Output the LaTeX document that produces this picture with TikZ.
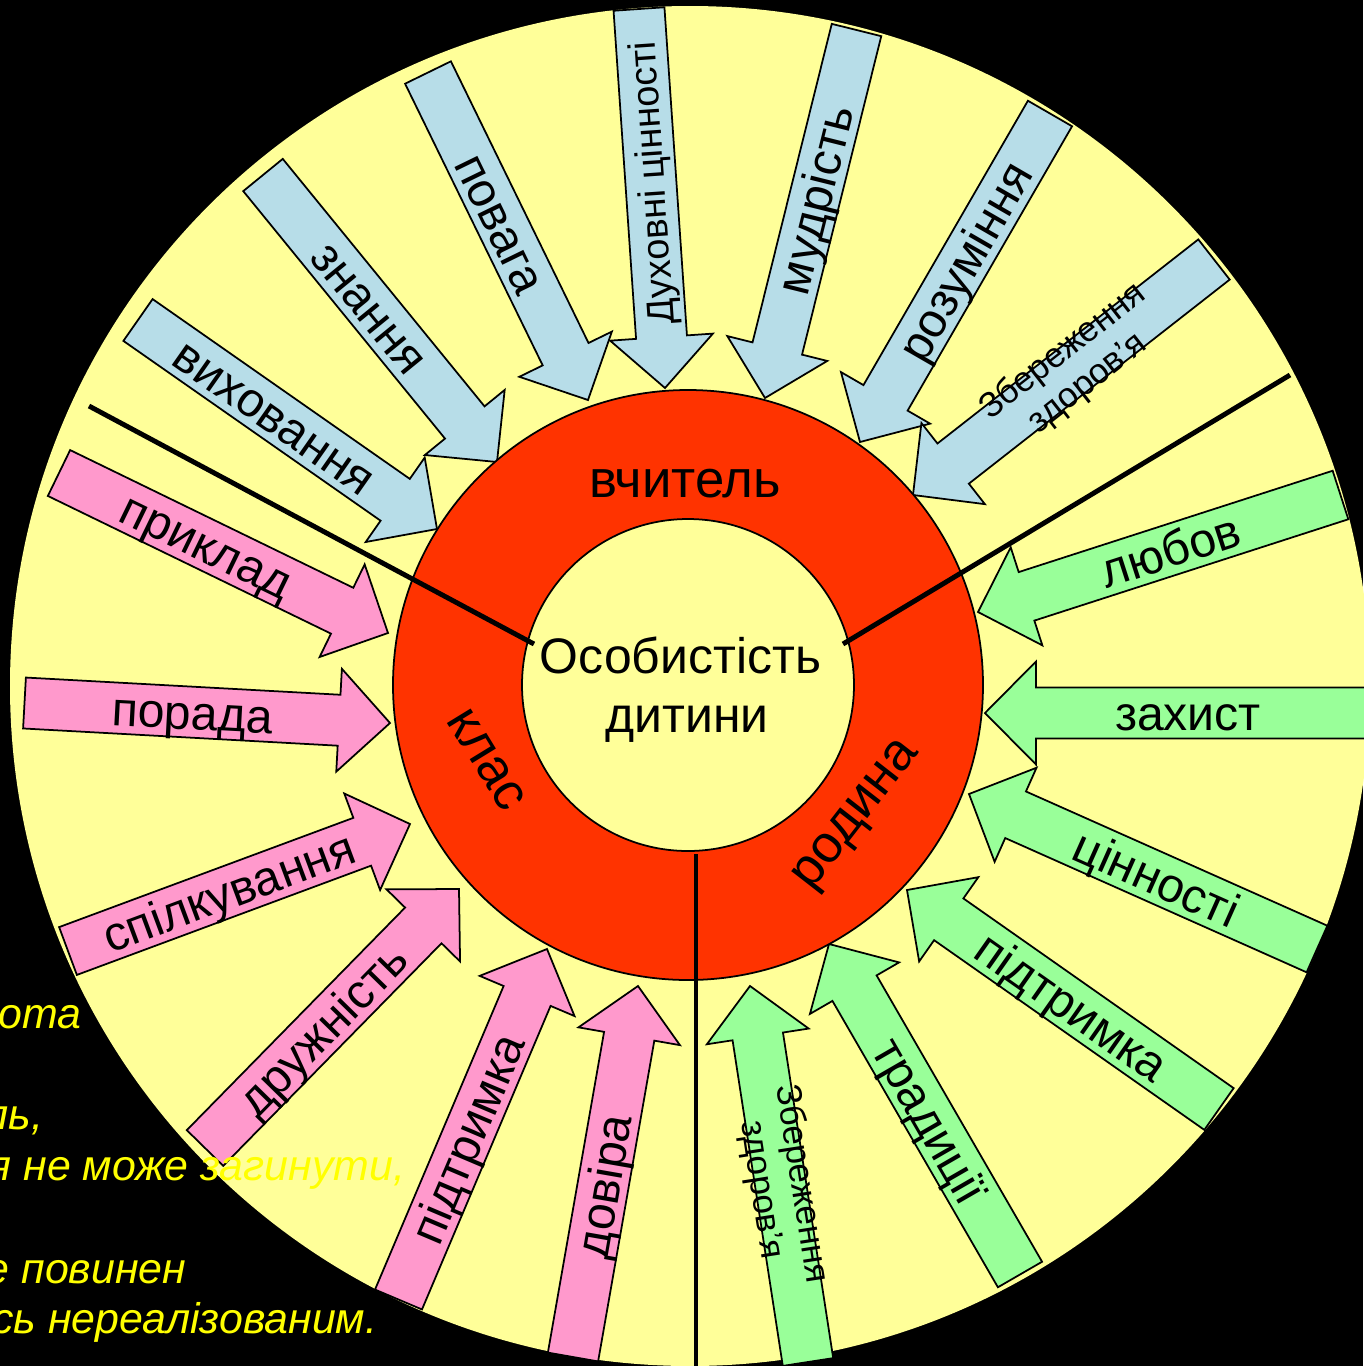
\documentclass[tikz,border=0pt]{standalone}
\usepackage{fontspec}
\setmainfont{Liberation Sans}
\usepackage{tikz}
\usepackage{xcolor}
\usetikzlibrary{calc}

\definecolor{wheelyellow}{HTML}{FFFF99}
\definecolor{ringred}{HTML}{FF3300}
\definecolor{arrowblue}{HTML}{B7DDE8}
\definecolor{arrowpink}{HTML}{FF99CC}
\definecolor{arrowgreen}{HTML}{99FF99}
\definecolor{noteyellow}{HTML}{FFFF00}

\tikzset{
  bluearrow/.style={draw=black, line width=0.5pt, fill=arrowblue},
  pinkarrow/.style={draw=black, line width=0.5pt, fill=arrowpink},
  greenarrow/.style={draw=black, line width=0.5pt, fill=arrowgreen},
  lbl/.style={inner sep=0pt, text height=12.6pt, text depth=2.7pt, font=\fontsize{13.7}{16}\selectfont},
  lblsmall/.style={inner sep=0pt, text height=9.9pt, text depth=2.2pt, font=\fontsize{10.8}{13}\selectfont},
  lbltwo/.style={inner sep=0pt, align=center, font=\fontsize{10}{11.4}\selectfont},
  ringlbl/.style={inner sep=0pt, text height=13.9pt, text depth=3pt, font=\fontsize{15}{18}\selectfont},
  childlbl/.style={inner sep=0pt, anchor=base, font=\fontsize{14.2}{17}\selectfont},
  note/.style={inner sep=0pt, anchor=base east, text=noteyellow, font=\fontsize{12.2}{14}\selectfont\itshape},
  divider/.style={line width=1.4pt}
}

% block arrow: name, style, tail centre, tip
\newcommand{\spoke}[4]{%
  \coordinate (#1-tail) at (#3);
  \coordinate (#1-tip) at (#4);
  \coordinate (#1-base) at ($(#1-tip)!5.1mm!(#1-tail)$);
  \draw[#2] ($(#1-tail)!2.55mm!90:(#1-tip)$)
    -- ($(#1-base)!2.55mm!90:(#1-tip)$)
    -- ($(#1-base)!5.15mm!90:(#1-tip)$)
    -- (#1-tip)
    -- ($(#1-base)!5.15mm!-90:(#1-tip)$)
    -- ($(#1-base)!2.55mm!-90:(#1-tip)$)
    -- ($(#1-tail)!2.55mm!-90:(#1-tip)$) -- cycle;
}

\begin{document}
\begin{tikzpicture}[x=0.1mm, y=-0.1mm]
\useasboundingbox (0,0) rectangle (1363,1366);
\fill[black] (0,0) rectangle (1363,1366);
% Wheel
\fill[wheelyellow] (690,686) circle (680);

% Teacher arrows
\spoke{vyh}{bluearrow}{138,320}{437,529}
\spoke{zna}{bluearrow}{263,175}{497,462}
\spoke{pov}{bluearrow}{428,72.5}{588,400}
\spoke{duh}{bluearrow}{639,9}{665,388}
\spoke{mud}{bluearrow}{856.5,30}{765,398}
\spoke{roz}{bluearrow}{1050,113.5}{860,442}
\spoke{zdb}{bluearrow}{1214,259.5}{913,495}
% Class arrows
\spoke{prk}{pinkarrow}{59,473}{388,633}
\spoke{por}{pinkarrow}{24.5,703}{390,723}
\spoke{spl}{pinkarrow}{68,951}{410,824}
\spoke{dru}{pinkarrow}{205,1148}{459,889}
\spoke{pdp}{pinkarrow}{398.5,1299.5}{547,949}
\spoke{dov}{pinkarrow}{573,1357}{638,986}
% Family arrows
\spoke{lub}{greenarrow}{1340.5,495}{978,612}
\spoke{zah}{greenarrow}{1368,713}{985,713}
\spoke{cin}{greenarrow}{1317,949}{969,794}
\spoke{pdg}{greenarrow}{1219,1109}{907,890}
\spoke{trd}{greenarrow}{1020,1274.5}{829,944}
\spoke{zdg}{greenarrow}{808,1362}{750,986}

% Ring and centre
\draw[fill=ringred, line width=0.5pt] (688,685) circle (295);
\draw[fill=wheelyellow, line width=0.5pt] (688,685) circle (166);

% Dividers
\draw[divider] (89,406) -- (534,644);
\draw[divider] (843,644) -- (1290,375);
\draw[divider] (696,854) -- (696,1366);

% Ring labels
\node[ringlbl] (teacher) at (685,478) {вчитель};
\node[ringlbl, rotate=-58.5] (klass) at (491,757) {клас};
\node[ringlbl, rotate=52.1] (family) at (850.5,810) {родина};
\node[childlbl] (child1) at (680.5,673) {Особистість};
\node[childlbl] (child2) at (687,732) {дитини};

% Arrow labels
\node[lbl, rotate=-35] (vyh) at ($(vyh-tail)!0.46!(vyh-tip)$) {виховання};
\node[lbl, rotate=-50.8] (zna) at ($(zna-tail)!0.46!(zna-tip)$) {знання};
\node[lbl, rotate=-64] (pov) at ($(pov-tail)!0.46!(pov-tip)$) {повага};
\node[lblsmall, rotate=93.9] (duh) at ($(duh-tail)!0.46!(duh-tip)$) {Духовні цінності};
\node[lbl, rotate=76] (mud) at ($(mud-tail)!0.46!(mud-tip)$) {мудрість};
\node[lbl, rotate=60] (roz) at ($(roz-tail)!0.45!(roz-tip)$) {розуміння};
\node[lbltwo, rotate=38] (zdb) at ($(zdb-tail)!0.46!(zdb-tip)$) {Збереження\\здоров’я};
\node[lbl, rotate=-25.9] (prk) at ($(prk-tail)!0.45!(prk-tip)$) {приклад};
\node[lbl, rotate=-3.1] (por) at ($(por-tail)!0.46!(por-tip)$) {порада};
\node[lbl, rotate=20.4] (spl) at ($(spl-tail)!0.47!(spl-tip)$) {спілкування};
\node[lbl, rotate=45.6] (dru) at ($(dru-tail)!0.46!(dru-tip)$) {дружність};
\node[lbl, rotate=67] (pdp) at ($(pdp-tail)!0.46!(pdp-tip)$) {підтримка};
\node[lbl, rotate=80.1] (dov) at ($(dov-tail)!0.46!(dov-tip)$) {довіра};
\node[lbl, rotate=17.9] (lub) at ($(lub-tail)!0.47!(lub-tip)$) {любов};
\node[lbl] (zah) at ($(zah-tail)!0.47!(zah-tip)$) {захист};
\node[lbl, rotate=-24] (cin) at ($(cin-tail)!0.46!(cin-tip)$) {цінності};
\node[lbl, rotate=-35.1] (pdg) at ($(pdg-tail)!0.47!(pdg-tip)$) {підтримка};
\node[lbl, rotate=-60] (trd) at ($(trd-tail)!0.465!(trd-tip)$) {традиції};
\node[lbltwo, rotate=-81.2] (zdg) at ($(zdg-tail)!0.465!(zdg-tip)$) {Збереження\\здоров’я};

% Slide text behind the wheel
\node[note] (n1) at (82,1028) {ота};
\node[note] (n2) at (44,1129) {ль,};
\node[note] (n3) at (406,1180) {я не може загинути,};
\node[note] (n4) at (187,1283) {е повинен};
\node[note] (n5) at (378,1333) {сь нереалізованим.};
\end{tikzpicture}
\end{document}
